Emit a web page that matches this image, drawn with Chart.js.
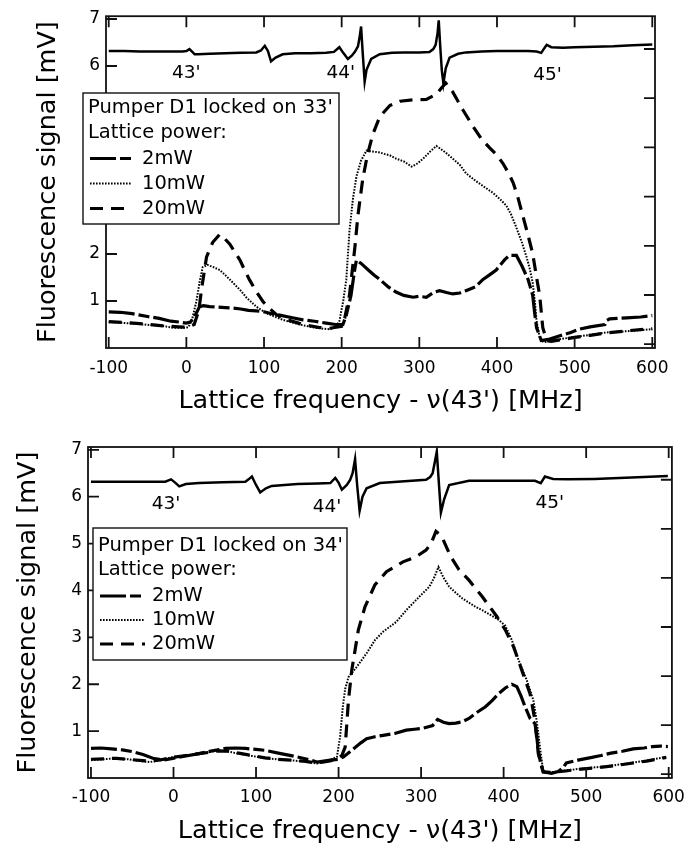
<!DOCTYPE html>
<html>
<head>
<meta charset="utf-8">
<script src="https://cdn.jsdelivr.net/npm/chart.js@4.4.0/dist/chart.umd.min.js"></script>
<style>
  body { margin: 0; background: #fff; }
  canvas { display: block; }
</style>
</head>
<body>
<canvas id="top" width="694" height="420"></canvas>
<canvas id="bottom" width="694" height="438"></canvas>
<script>
'use strict';

// ---- tick values ----
var xTicks = [-100, 0, 100, 200, 300, 400, 500, 600];
var yTicks = [1, 2, 3, 4, 5, 6, 7];
var y2Ticks = [0, 1, 2, 3, 4, 5, 6];

// ---- text ----
var legendTitles = ["Pumper D1 locked on 33'", "Pumper D1 locked on 34'"];
var legendSub = 'Lattice power:';
var seriesNames = ['2mW', '10mW', '20mW'];
var lineNames = ["43'", "44'", "45'"];
var topLabelX = [0, 199, 465];
var topLabelY = [5.85, 5.85, 5.81];
var botLabelX = [-9, 186, 456];
var botLabelY = [5.83, 5.78, 5.86];

// ---- top panel (pumper on 33') ----
var topRefX = [-100, -80, -60, -40, -20, -5, 0, 4, 7, 10.7, 15, 30, 50, 70, 90, 96, 101, 105, 109, 115, 124, 140, 160, 180, 190, 197, 202, 208, 213, 217, 221, 223, 225, 227, 229.6, 232, 238, 249, 265, 280, 300, 313, 318, 321, 323.5, 325, 327, 329, 331, 334, 339, 350, 360, 380, 400, 420, 440, 451, 457, 461, 464, 470, 485, 500, 525, 550, 575, 600];
var topRefY = [6.32, 6.32, 6.31, 6.31, 6.31, 6.31, 6.32, 6.36, 6.31, 6.25, 6.25, 6.26, 6.27, 6.28, 6.29, 6.33, 6.43, 6.32, 6.10, 6.18, 6.25, 6.27, 6.27, 6.28, 6.30, 6.40, 6.28, 6.15, 6.22, 6.30, 6.42, 6.6, 6.84, 6.3, 5.67, 5.92, 6.15, 6.25, 6.28, 6.29, 6.29, 6.30, 6.36, 6.45, 6.7, 6.97, 6.4, 5.9, 5.63, 5.95, 6.18, 6.26, 6.29, 6.31, 6.32, 6.32, 6.32, 6.31, 6.28, 6.38, 6.45, 6.40, 6.39, 6.40, 6.41, 6.42, 6.44, 6.46];

var top2X = [-100, -85, -70, -50, -35, -20, -8, 0, 5, 10, 14, 17, 22, 30, 40, 50, 60, 70, 80, 90, 100, 110, 120, 135, 150, 165, 180, 192, 201.6, 206, 212, 216.7, 219, 225, 235, 242, 249, 260, 270, 280, 292, 300, 309, 318, 326, 335, 343, 352, 360, 372, 382, 390, 399, 410, 416, 425, 432, 440, 446, 448.5, 451, 457, 468, 481, 495, 506, 520, 539, 541, 545, 555, 567, 585, 600];
var top2Y = [0.77, 0.76, 0.73, 0.67, 0.63, 0.57, 0.55, 0.53, 0.55, 0.65, 0.78, 0.88, 0.90, 0.88, 0.87, 0.86, 0.85, 0.83, 0.80, 0.79, 0.77, 0.73, 0.70, 0.65, 0.60, 0.57, 0.53, 0.50, 0.50, 0.70, 1.12, 1.66, 1.87, 1.80, 1.65, 1.55, 1.46, 1.30, 1.19, 1.12, 1.08, 1.10, 1.08, 1.18, 1.22, 1.18, 1.15, 1.17, 1.22, 1.30, 1.46, 1.55, 1.66, 1.88, 1.97, 1.97, 1.75, 1.46, 1.12, 0.75, 0.43, 0.16, 0.19, 0.26, 0.33, 0.40, 0.45, 0.50, 0.58, 0.62, 0.63, 0.64, 0.66, 0.69];

var top10X = [-100, -85, -70, -47, -30, -17, 0, 3, 8, 13, 17, 21, 27, 35, 43, 52, 60, 70, 77, 90, 103, 115, 124, 135, 146, 157, 167, 177, 185, 192, 197, 202, 206, 210, 214.5, 219, 225, 232, 240, 249, 255, 262, 270, 280, 290, 297, 305, 314, 322, 333, 343, 352, 360, 373, 386, 395, 405, 412, 418, 425, 432, 438, 442, 446, 449, 451, 455, 460, 470, 498, 520, 541, 570, 600];
var top10Y = [0.55, 0.54, 0.52, 0.49, 0.47, 0.43, 0.43, 0.45, 0.65, 1.0, 1.4, 1.72, 1.77, 1.72, 1.66, 1.52, 1.39, 1.22, 1.08, 0.88, 0.74, 0.66, 0.60, 0.55, 0.50, 0.46, 0.43, 0.41, 0.40, 0.44, 0.57, 1.0, 1.46, 2.49, 3.17, 3.65, 3.99, 4.20, 4.18, 4.16, 4.13, 4.10, 4.03, 3.97, 3.86, 3.92, 4.03, 4.18, 4.30, 4.17, 4.03, 3.90, 3.72, 3.55, 3.40, 3.30, 3.15, 3.03, 2.85, 2.56, 2.25, 1.94, 1.70, 1.39, 0.95, 0.57, 0.23, 0.12, 0.16, 0.23, 0.28, 0.33, 0.36, 0.40];

var top20X = [-100, -80, -60, -30, -10, 0, 10, 16, 20, 26, 34, 43, 48, 56, 62, 69, 75, 81, 90, 99, 108, 116, 130, 150, 170, 185, 200, 204, 210, 217, 221, 227, 233, 240, 249, 262, 275, 292, 309, 322, 328, 334, 343, 356, 369, 380, 390, 400, 408, 415, 421, 427, 433, 440, 446, 451, 455, 459, 464, 470, 498, 520, 541, 570, 600];
var top20Y = [0.56, 0.54, 0.52, 0.47, 0.45, 0.44, 0.50, 0.80, 1.30, 1.94, 2.25, 2.42, 2.35, 2.21, 2.05, 1.87, 1.66, 1.46, 1.20, 0.98, 0.83, 0.71, 0.60, 0.50, 0.44, 0.42, 0.46, 0.64, 1.12, 2.14, 2.83, 3.58, 4.10, 4.54, 4.92, 5.16, 5.25, 5.28, 5.29, 5.40, 5.52, 5.64, 5.45, 5.07, 4.72, 4.45, 4.27, 4.10, 3.92, 3.72, 3.51, 3.20, 2.83, 2.40, 2.01, 1.50, 1.12, 0.43, 0.16, 0.14, 0.22, 0.27, 0.32, 0.37, 0.41];

// ---- bottom panel (pumper on 34') ----
var botRefX = [-100, -70, -40, -10, -3, 2, 7, 15, 31, 60, 87, 91, 95, 100, 105, 112, 119, 150, 175, 190, 196, 200, 204, 210, 214, 217, 220, 222.5, 225.5, 229, 234, 250, 280, 306, 311, 314, 319, 321.5, 324, 328, 334, 358, 400, 438, 445, 450, 460, 478, 510, 540, 570, 599];
var botRefY = [6.32, 6.32, 6.32, 6.32, 6.37, 6.30, 6.22, 6.27, 6.29, 6.31, 6.32, 6.37, 6.43, 6.25, 6.09, 6.18, 6.23, 6.27, 6.28, 6.29, 6.40, 6.30, 6.15, 6.25, 6.36, 6.50, 6.80, 6.25, 5.70, 6.00, 6.18, 6.29, 6.33, 6.36, 6.42, 6.50, 6.96, 6.30, 5.66, 5.95, 6.25, 6.34, 6.34, 6.34, 6.29, 6.43, 6.38, 6.37, 6.38, 6.40, 6.42, 6.44];

var bot2X = [-100, -88, -75, -62, -49, -37, -25, -12, -1, 15, 31, 47, 63, 75, 87, 100, 111, 130, 150, 162, 174, 182, 190, 200, 206, 213, 220, 227, 234, 244, 254, 268, 282, 292, 302, 310, 314, 320, 327, 334, 342, 350, 358, 366, 378, 386, 394, 402, 410, 416, 421, 426, 432, 438, 440, 442, 445, 448, 458, 466, 472, 476, 490, 504, 518, 530, 544, 557, 570, 580, 590, 599];
var bot2Y = [0.63, 0.64, 0.62, 0.60, 0.56, 0.50, 0.42, 0.38, 0.42, 0.47, 0.52, 0.58, 0.63, 0.64, 0.63, 0.61, 0.59, 0.52, 0.45, 0.40, 0.34, 0.36, 0.38, 0.40, 0.45, 0.55, 0.65, 0.75, 0.84, 0.88, 0.91, 0.95, 1.02, 1.04, 1.06, 1.10, 1.12, 1.25, 1.19, 1.16, 1.17, 1.20, 1.27, 1.38, 1.52, 1.65, 1.80, 1.92, 2.00, 1.95, 1.75, 1.52, 1.27, 1.16, 0.90, 0.59, 0.30, 0.13, 0.10, 0.14, 0.22, 0.32, 0.38, 0.43, 0.48, 0.53, 0.57, 0.62, 0.64, 0.67, 0.68, 0.67];

var bot10X = [-100, -85, -69, -55, -45, -29, -15, -1, 15, 31, 45, 55, 67, 79, 95, 111, 126, 142, 158, 174, 185, 194, 198, 202, 205, 208, 212, 222, 234, 244, 254, 270, 282, 298, 310, 316, 321, 327, 334, 342, 350, 366, 374, 384, 394, 402, 410, 418, 428, 436, 440, 444, 448, 458, 475, 494, 513, 533, 553, 573, 585, 597];
var bot10Y = [0.38, 0.40, 0.42, 0.40, 0.37, 0.34, 0.38, 0.45, 0.48, 0.52, 0.56, 0.59, 0.56, 0.52, 0.47, 0.42, 0.40, 0.38, 0.35, 0.31, 0.34, 0.42, 0.45, 0.90, 1.50, 1.90, 2.15, 2.37, 2.66, 2.94, 3.12, 3.33, 3.58, 3.87, 4.08, 4.28, 4.50, 4.28, 4.08, 3.95, 3.83, 3.65, 3.58, 3.48, 3.37, 3.25, 2.94, 2.52, 2.09, 1.66, 1.23, 0.66, 0.13, 0.12, 0.16, 0.20, 0.23, 0.27, 0.32, 0.37, 0.41, 0.45];

var bot20X = [-100, -85, -69, -50, -29, -15, -1, 15, 31, 45, 55, 67, 79, 95, 111, 126, 142, 158, 174, 188, 198, 204, 208, 212, 216, 224, 232, 244, 258, 278, 294, 306, 312, 318, 322, 326, 336, 346, 358, 374, 392, 402, 412, 422, 432, 438, 442, 448, 458, 475, 494, 513, 533, 553, 573, 585, 597];
var bot20Y = [0.40, 0.41, 0.42, 0.39, 0.36, 0.39, 0.44, 0.48, 0.52, 0.55, 0.58, 0.57, 0.53, 0.48, 0.43, 0.40, 0.38, 0.36, 0.32, 0.36, 0.40, 0.48, 0.66, 1.66, 2.30, 3.16, 3.65, 4.12, 4.40, 4.61, 4.72, 4.86, 5.00, 5.26, 5.20, 5.11, 4.72, 4.44, 4.22, 3.87, 3.44, 3.16, 2.80, 2.30, 1.80, 1.23, 0.52, 0.13, 0.12, 0.15, 0.19, 0.22, 0.26, 0.31, 0.36, 0.40, 0.44];

// line styles: reference trace, 2mW, 10mW, 20mW
var STYLES = [
  { w: 2.5, dash: [] },
  { w: 3.2, dash: [26, 4, 11, 4] },
  { w: 2, dash: [1.6, 1.4] },
  { w: 3.2, dash: [13, 8] }
];
var FONT = 'DejaVu Sans';
var TICK = 11;
Chart.defaults.font.family = FONT;
Chart.defaults.color = '#000';

function pts(xs, ys) {
  return xs.map(function (x, i) { return { x: x, y: ys[i] }; });
}

var PANELS = [
  {
    id: 'top', title: legendTitles[0],
    series: [[topRefX, topRefY], [top2X, top2Y], [top10X, top10Y], [top20X, top20Y]],
    labelX: topLabelX, labelY: topLabelY, xMin: -103.5, xMax: 603.5,
    padTop: 4, yWidth: 106, y2Width: 39, xHeight: 72, tickPad: 10, xTitlePad: 3, yTitlePad: 33,
    box: [83, 93, 256, 131], textX: 88, sampleX: [90, 132], itemX: 142,
    rows: [108, 133, 158.5, 183.5, 208.5]
  },
  {
    id: 'bottom', title: legendTitles[1],
    series: [[botRefX, botRefY], [bot2X, bot2Y], [bot10X, bot10Y], [bot20X, bot20Y]],
    labelX: botLabelX, labelY: botLabelY, xMin: -103.6, xMax: 603.9,
    padTop: 27, yWidth: 88, y2Width: 15, xHeight: 80, tickPad: 9, xTitlePad: 11, yTitlePad: 13,
    box: [93, 108, 254, 132], textX: 98, sampleX: [100, 145], itemX: 152,
    rows: [126, 150, 176, 200, 224]
  }
];

// frame, inward ticks and the resonance labels
var frameTicks = {
  id: 'frameTicks',
  afterDatasetsDraw: function (chart) {
    var ctx = chart.ctx, a = chart.chartArea, s = chart.scales, p = chart.options.plugins.frameTicks;
    ctx.save();
    ctx.strokeStyle = '#111';
    ctx.lineWidth = 1.8;
    ctx.setLineDash([]);
    ctx.strokeRect(a.left, a.top, a.right - a.left, a.bottom - a.top);
    ctx.beginPath();
    xTicks.forEach(function (v) {
      var px = s.x.getPixelForValue(v);
      ctx.moveTo(px, a.bottom); ctx.lineTo(px, a.bottom - TICK);
      ctx.moveTo(px, a.top); ctx.lineTo(px, a.top + TICK);
    });
    yTicks.forEach(function (v) {
      var py = s.y.getPixelForValue(v);
      ctx.moveTo(a.left, py); ctx.lineTo(a.left + TICK, py);
    });
    y2Ticks.forEach(function (v) {
      var py = s.y2.getPixelForValue(v);
      ctx.moveTo(a.right, py); ctx.lineTo(a.right - TICK, py);
    });
    ctx.stroke();

    ctx.fillStyle = '#000';
    ctx.font = '18.5px "' + FONT + '"';
    ctx.textAlign = 'center';
    ctx.textBaseline = 'middle';
    lineNames.forEach(function (t, i) {
      ctx.fillText(t, s.x.getPixelForValue(p.labelX[i]), s.y.getPixelForValue(p.labelY[i]));
    });
    ctx.restore();
  }
};

// boxed legend in the upper left
var boxLegend = {
  id: 'boxLegend',
  afterDraw: function (chart) {
    var ctx = chart.ctx, o = chart.options.plugins.boxLegend, b = o.box;
    ctx.save();
    ctx.fillStyle = '#fff';
    ctx.fillRect(b[0], b[1], b[2], b[3]);
    ctx.strokeStyle = '#111';
    ctx.lineWidth = 1.4;
    ctx.strokeRect(b[0], b[1], b[2], b[3]);
    ctx.fillStyle = '#000';
    ctx.font = '19.5px "' + FONT + '"';
    ctx.textAlign = 'left';
    ctx.textBaseline = 'middle';
    ctx.fillText(o.title, o.textX, o.rows[0]);
    ctx.fillText(legendSub, o.textX, o.rows[1]);
    seriesNames.forEach(function (name, i) {
      var st = STYLES[i + 1], y = o.rows[i + 2];
      ctx.fillText(name, o.itemX, y);
      ctx.beginPath();
      ctx.lineWidth = st.w;
      ctx.setLineDash(st.dash);
      ctx.strokeStyle = '#000';
      ctx.moveTo(o.sampleX[0], y);
      ctx.lineTo(o.sampleX[1], y);
      ctx.stroke();
    });
    ctx.restore();
  }
};

function makeChart(P) {
  var datasets = P.series.map(function (s, i) {
    return {
      label: i === 0 ? 'reference' : seriesNames[i - 1],
      data: pts(s[0], s[1]),
      borderColor: '#000',
      borderWidth: STYLES[i].w,
      borderDash: STYLES[i].dash,
      pointRadius: 0,
      tension: 0,
      fill: false,
      yAxisID: 'y'
    };
  });
  var tickFont = { family: FONT, size: 17 };
  var titleFont = { family: FONT, size: 25.5 };

  return new Chart(document.getElementById(P.id), {
    type: 'line',
    data: { datasets: datasets },
    plugins: [frameTicks, boxLegend],
    options: {
      responsive: false,
      animation: false,
      layout: { padding: { top: P.padTop, left: 0, right: 0, bottom: 0 } },
      plugins: {
        legend: { display: false },
        tooltip: { enabled: false },
        frameTicks: { labelX: P.labelX, labelY: P.labelY },
        boxLegend: { box: P.box, title: P.title, textX: P.textX, sampleX: P.sampleX, itemX: P.itemX, rows: P.rows }
      },
      scales: {
        x: {
          type: 'linear', position: 'bottom', min: P.xMin, max: P.xMax,
          afterBuildTicks: function (s) { s.ticks = xTicks.map(function (v) { return { value: v }; }); },
          afterFit: function (s) { s.height = P.xHeight; },
          grid: { display: false, drawTicks: false },
          border: { display: false },
          ticks: { font: tickFont, color: '#000', padding: P.tickPad, autoSkip: false, maxRotation: 0,
                   callback: function (v) { return String(v); } },
          title: { display: true, text: "Lattice frequency - \u03bd(43') [MHz]", font: titleFont, color: '#000',
                   padding: { top: 0, bottom: P.xTitlePad } }
        },
        y: {
          type: 'linear', position: 'left', min: 0, max: 7.06,
          afterBuildTicks: function (s) { s.ticks = yTicks.map(function (v) { return { value: v }; }); },
          afterFit: function (s) { s.width = P.yWidth; },
          grid: { display: false, drawTicks: false },
          border: { display: false },
          ticks: { font: tickFont, color: '#000', padding: 6, callback: function (v) { return String(v); } },
          title: { display: true, text: 'Fluorescence signal [mV]', font: titleFont, color: '#000',
                   padding: { top: P.yTitlePad, bottom: 0 } }
        },
        y2: {
          type: 'linear', position: 'right', min: -0.077, max: 6.667,
          afterBuildTicks: function (s) { s.ticks = y2Ticks.map(function (v) { return { value: v }; }); },
          afterFit: function (s) { s.width = P.y2Width; },
          grid: { display: false, drawTicks: false },
          border: { display: false },
          ticks: { display: false }
        }
      }
    }
  });
}

PANELS.forEach(makeChart);
</script>
</body>
</html>
